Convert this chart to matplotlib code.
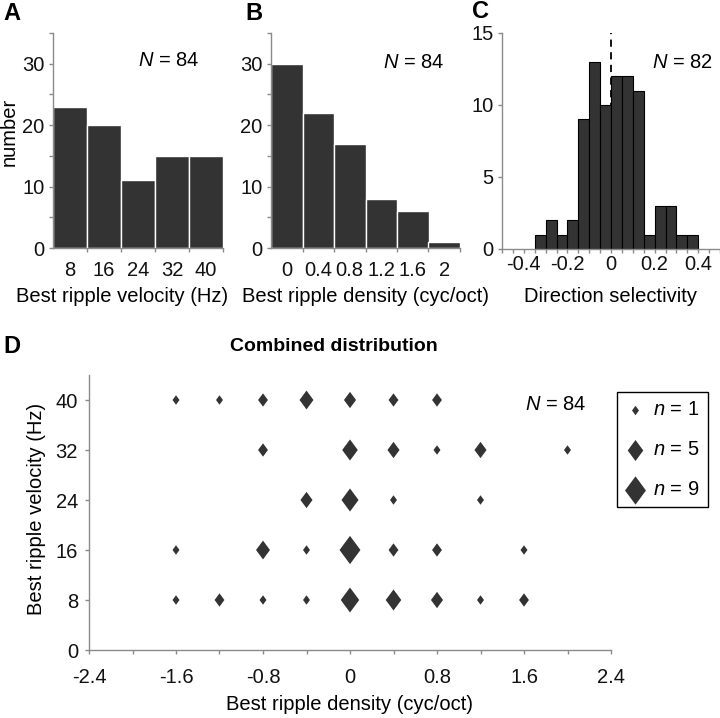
import numpy as np
import matplotlib
matplotlib.use('Agg')
import matplotlib.pyplot as plt
from matplotlib.ticker import MultipleLocator

plt.rcParams['font.family'] = ['Liberation Sans', 'DejaVu Sans']
plt.rcParams['mathtext.fontset'] = 'custom'
plt.rcParams['mathtext.rm'] = 'Liberation Sans'
plt.rcParams['mathtext.it'] = 'Liberation Sans:italic'
plt.rcParams['axes.unicode_minus'] = False

# panel A: best ripple velocity histogram
velocity = [8, 16, 24, 32, 40]
velocity_counts = [23, 20, 11, 15, 15]

# panel B: best ripple density histogram
density = [0, 0.4, 0.8, 1.2, 1.6, 2.0]
density_labels = ['0', '0.4', '0.8', '1.2', '1.6', '2']
density_counts = [30, 22, 17, 8, 6, 1]

# panel C: direction selectivity histogram (bin centres, width 0.05)
ds_centers = [-0.325, -0.275, -0.225, -0.175, -0.125, -0.075, -0.025,
              0.025, 0.075, 0.125, 0.175, 0.225, 0.275, 0.325, 0.375]
ds_counts = [1, 2, 1, 2, 9, 13, 10, 12, 12, 11, 1, 3, 3, 1, 1]
ds_ticks = [-0.4, -0.2, 0, 0.2, 0.4]
ds_labels = ['-0.4', '-0.2', '0', '0.2', '0.4']

# panel D: joint distribution (signed density, velocity, number of cells)
joint_density = [-1.6, -1.2, -0.8, -0.4, 0, 0.4, 0.8,
                 -0.8, 0, 0.4, 0.8, 1.2, 2.0,
                 -0.4, 0, 0.4, 1.2,
                 -1.6, -0.8, -0.4, 0, 0.4, 0.8, 1.6,
                 -1.6, -1.2, -0.8, -0.4, 0, 0.4, 0.8, 1.2, 1.6]
joint_velocity = [40, 40, 40, 40, 40, 40, 40,
                  32, 32, 32, 32, 32, 32,
                  24, 24, 24, 24,
                  16, 16, 16, 16, 16, 16, 16,
                  8, 8, 8, 8, 8, 8, 8, 8, 8]
joint_n = [1, 1, 2, 4, 3, 2, 2,
           2, 5, 3, 1, 3, 1,
           3, 6, 1, 1,
           1, 4, 1, 9, 2, 2, 1,
           1, 2, 1, 1, 7, 5, 3, 1, 2]
legend_n = [1, 5, 9]
d_xticks = [-2.4, -1.6, -0.8, 0, 0.8, 1.6, 2.4]
d_xlabels = ['-2.4', '-1.6', '-0.8', '0', '0.8', '1.6', '2.4']
d_yticks = [0, 8, 16, 24, 32, 40]

BAR = '#333333'
AXC = '#8a8a8a'
W, H = 720, 718
TICK_FS = 14.5
LABEL_FS = 14.5
SIZE_PER_CELL = 46


def fx(x):
    return x / W


def fy(y):
    return 1 - y / H


def add_axes(left, top, right, bottom):
    return fig.add_axes([fx(left), fy(bottom), (right - left) / W, (bottom - top) / H])


def style(ax):
    for s in ['top', 'right']:
        ax.spines[s].set_visible(False)
    for s in ['left', 'bottom']:
        ax.spines[s].set_color(AXC)
        ax.spines[s].set_linewidth(1)
    ax.tick_params(which='both', color=AXC, length=3, width=1,
                   labelsize=TICK_FS, pad=3, labelcolor='#111111')


fig = plt.figure(figsize=(7.2, 7.18), dpi=100)

# ---- A ----
axA = add_axes(53, 33, 223, 248)
axA.bar(velocity, velocity_counts, width=8, color=BAR, edgecolor='white', linewidth=1)
axA.set_xlim(4, 44)
axA.set_ylim(0, 35)
axA.set_xticks([v + 4 for v in velocity])
axA.set_xticklabels([])
axA.set_xticks(velocity, minor=True)
axA.set_xticklabels([str(v) for v in velocity], minor=True)
axA.yaxis.set_major_locator(MultipleLocator(10))
axA.yaxis.set_minor_locator(MultipleLocator(5))
style(axA)
axA.tick_params(axis='x', which='minor', length=0, pad=9)

# ---- B ----
axB = add_axes(271, 33, 460, 248)
axB.bar(density, density_counts, width=0.4, color=BAR, edgecolor='white', linewidth=1)
axB.set_xlim(-0.2, 2.2)
axB.set_ylim(0, 35)
axB.set_xticks([d + 0.2 for d in density])
axB.set_xticklabels([])
axB.set_xticks(density, minor=True)
axB.set_xticklabels(density_labels, minor=True)
axB.yaxis.set_major_locator(MultipleLocator(10))
axB.yaxis.set_minor_locator(MultipleLocator(5))
style(axB)
axB.tick_params(axis='x', which='minor', length=0, pad=9)

# ---- C ----
axC = add_axes(502, 33, 720, 249)
axC.plot([0, 0], [0, 15], color='black', linestyle=(0, (4, 3)), linewidth=1.3, zorder=1)
axC.bar(ds_centers, ds_counts, width=0.05, color=BAR, edgecolor='black', linewidth=0.8, zorder=2)
axC.set_xlim(-0.5, 0.5)
axC.set_ylim(0, 15)
axC.set_xticks(ds_ticks)
axC.set_xticklabels(ds_labels)
axC.xaxis.set_minor_locator(MultipleLocator(0.05))
axC.set_yticks([0, 5, 10, 15])
style(axC)
axC.tick_params(axis='x', pad=1)

# ---- D ----
axD = add_axes(89, 375, 611, 650)
diamond = [(0, 1), (0.74, 0), (0, -1), (-0.74, 0)]
axD.scatter(joint_density, joint_velocity, s=[SIZE_PER_CELL * n for n in joint_n],
            marker=diamond, color=BAR, linewidths=0, zorder=3)
axD.set_xlim(-2.4, 2.4)
axD.set_ylim(0, 44)
axD.set_xticks(d_xticks)
axD.set_xticklabels(d_xlabels)
axD.xaxis.set_minor_locator(MultipleLocator(0.4))
axD.set_yticks(d_yticks)
style(axD)
axD.tick_params(axis='x', pad=10)
axD.tick_params(axis='y', pad=5)

handles = [axD.scatter([], [], s=SIZE_PER_CELL * n, marker=diamond, color=BAR, linewidths=0)
           for n in legend_n]
leg = fig.legend(handles, [r'$n$ = %d' % n for n in legend_n],
                 loc='upper left', bbox_to_anchor=(fx(617), fy(392)),
                 bbox_transform=fig.transFigure, fontsize=14.5, frameon=True,
                 fancybox=False, edgecolor='black', framealpha=1,
                 borderpad=0.4, labelspacing=1.05, handlelength=1.0,
                 handletextpad=0.4, borderaxespad=0, scatterpoints=1)
leg.get_frame().set_linewidth(1.0)

# ---- text ----
for letter, x, y in [('A', 3, 14), ('B', 245, 14), ('C', 472, 12), ('D', 3, 346)]:
    fig.text(fx(x), fy(y), letter, fontsize=17, fontweight='bold', va='center', ha='left')

fig.text(fx(138), fy(61), r'$N$ = 84', fontsize=14.5, va='center', ha='left')
fig.text(fx(383), fy(63), r'$N$ = 84', fontsize=14.5, va='center', ha='left')
fig.text(fx(652), fy(62), r'$N$ = 82', fontsize=14.5, va='center', ha='left')
fig.text(fx(525), fy(405), r'$N$ = 84', fontsize=14.5, va='center', ha='left')

fig.text(fx(122), fy(296), 'Best ripple velocity (Hz)', fontsize=LABEL_FS, ha='center', va='center')
fig.text(fx(365), fy(296), 'Best ripple density (cyc/oct)', fontsize=LABEL_FS, ha='center', va='center')
fig.text(fx(610), fy(296), 'Direction selectivity', fontsize=LABEL_FS, ha='center', va='center')
fig.text(fx(9), fy(132), 'number', fontsize=LABEL_FS, ha='center', va='center', rotation=90)

fig.text(fx(334), fy(346), 'Combined distribution', fontsize=14, fontweight='bold',
         ha='center', va='center')
fig.text(fx(37), fy(509), 'Best ripple velocity (Hz)', fontsize=LABEL_FS, ha='center',
         va='center', rotation=90)
fig.text(fx(350), fy(705), 'Best ripple density (cyc/oct)', fontsize=LABEL_FS, ha='center', va='center')

fig.savefig('out.png', dpi=100)
